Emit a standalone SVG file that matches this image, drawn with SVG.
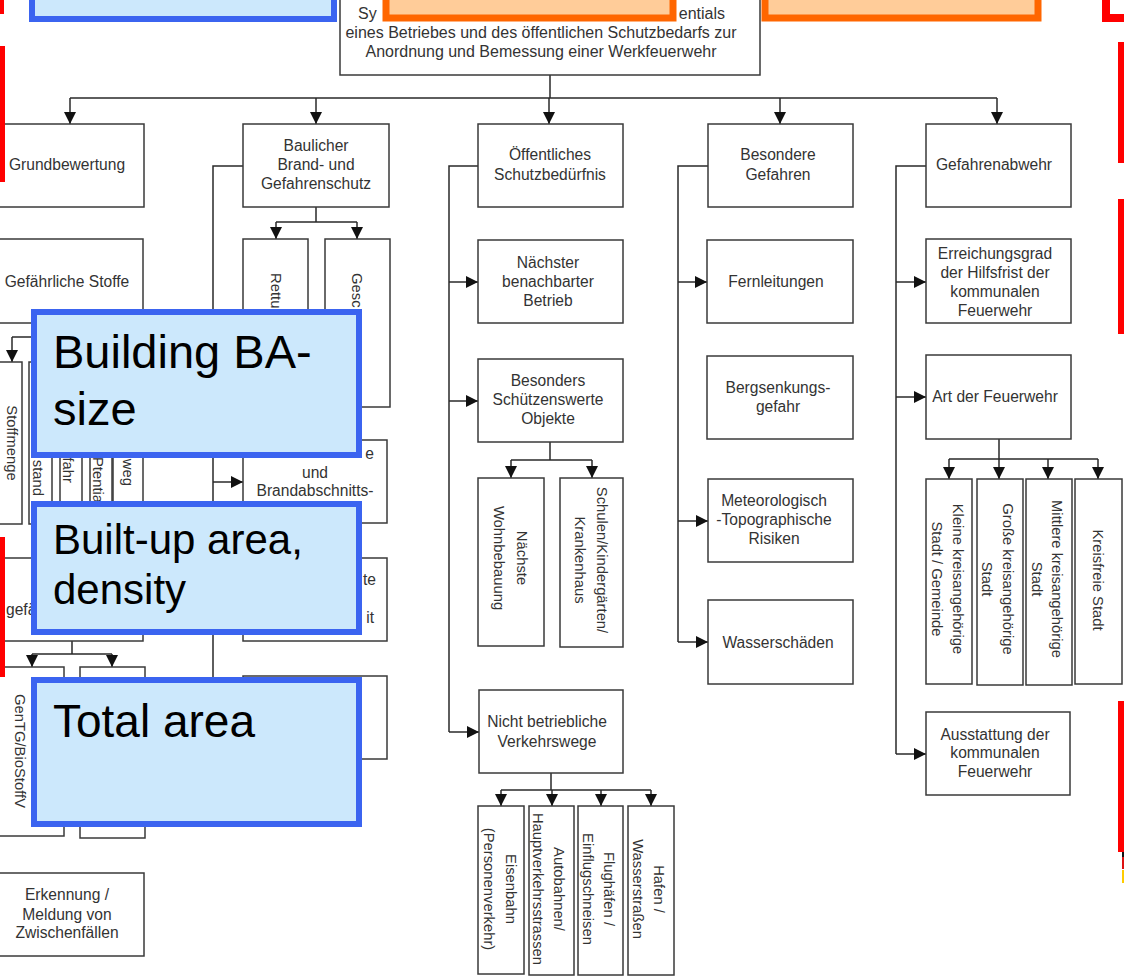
<svg xmlns="http://www.w3.org/2000/svg" width="1124" height="978" viewBox="0 0 1124 978">
<style>
.b{fill:#fff;stroke:#3a3a3a;stroke-width:1.5}
.c{fill:none;stroke:#2a2a2a;stroke-width:1.5}
.t{font-family:"Liberation Sans",Arial,sans-serif;font-size:15.6px;fill:#333;text-anchor:middle}
.r{font-size:14.8px}
.s{text-anchor:start}
.e{text-anchor:end}
.root{font-size:16px}
.ob{fill:#cce8fc;stroke:#3b64f0;stroke-width:6}
.oo{fill:#ffcc99;stroke:#ff6600;stroke-width:7}
.ot{font-family:"Liberation Sans",Arial,sans-serif;fill:#000}
.red{fill:#ff0000}
</style>
<defs>
<marker id="ah" markerUnits="userSpaceOnUse" markerWidth="13" markerHeight="13" refX="12" refY="6.5" orient="auto" viewBox="0 0 13 13">
<path d="M0,0.5 L12,6.5 L0,12.5 z" fill="#111"/>
</marker>
</defs>
<rect width="1124" height="978" fill="#fff"/>

<g id="connectors" class="c">
<path d="M550,75 V98 M70,98 H997"/>
<path d="M70,98 V124" marker-end="url(#ah)"/>
<path d="M316,98 V124" marker-end="url(#ah)"/>
<path d="M549,98 V124" marker-end="url(#ah)"/>
<path d="M780,98 V124" marker-end="url(#ah)"/>
<path d="M997,98 V124" marker-end="url(#ah)"/>
<path d="M70,323 V337 M12,337 H127"/>
<path d="M12,337 V362" marker-end="url(#ah)"/>
<path d="M72,641 V654 M32,654 H112"/>
<path d="M32,654 V667" marker-end="url(#ah)"/>
<path d="M112,654 V667" marker-end="url(#ah)"/>
<path d="M316,207 V222 M276,222 H357"/>
<path d="M276,222 V239" marker-end="url(#ah)"/>
<path d="M357,222 V239" marker-end="url(#ah)"/>
<path d="M243,166 H213 V717"/>
<path d="M213,482 H243" marker-end="url(#ah)"/>
<path d="M478,166 H449 V732"/>
<path d="M449,282 H478" marker-end="url(#ah)"/>
<path d="M449,401 H478" marker-end="url(#ah)"/>
<path d="M449,732 H479" marker-end="url(#ah)"/>
<path d="M550,442 V460 M511,460 H592"/>
<path d="M511,460 V478" marker-end="url(#ah)"/>
<path d="M592,460 V478" marker-end="url(#ah)"/>
<path d="M551,773 V790 M501,790 H651"/>
<path d="M501,790 V806" marker-end="url(#ah)"/>
<path d="M552,790 V806" marker-end="url(#ah)"/>
<path d="M601,790 V806" marker-end="url(#ah)"/>
<path d="M651,790 V806" marker-end="url(#ah)"/>
<path d="M708,166 H678 V642"/>
<path d="M678,282 H707" marker-end="url(#ah)"/>
<path d="M678,521 H708" marker-end="url(#ah)"/>
<path d="M678,642 H708" marker-end="url(#ah)"/>
<path d="M926,166 H896 V754"/>
<path d="M896,282 H926" marker-end="url(#ah)"/>
<path d="M896,397 H926" marker-end="url(#ah)"/>
<path d="M896,754 H926" marker-end="url(#ah)"/>
<path d="M999,439 V459 M949,459 H1098"/>
<path d="M949,459 V479" marker-end="url(#ah)"/>
<path d="M999,459 V479" marker-end="url(#ah)"/>
<path d="M1048,459 V479" marker-end="url(#ah)"/>
<path d="M1098,459 V479" marker-end="url(#ah)"/>
</g>

<g id="root"><rect class="b" x="340" y="-10" width="420" height="85"/>
<text class="t root s" x="358" y="19">Sy</text>
<text class="t root e" x="725" y="19">entials</text>
<text class="t root" x="541" y="38">eines Betriebes und des öffentlichen Schutzbedarfs zur</text>
<text class="t root" x="541" y="57">Anordnung und Bemessung einer Werkfeuerwehr</text></g>

<g id="grundbewertung"><rect class="b" x="-2" y="124" width="146" height="83"/><text class="t" x="67" y="170">Grundbewertung</text></g>
<g id="gefaehrliche-stoffe"><rect class="b" x="-2" y="239" width="145" height="84"/><text class="t" x="67" y="287">Gefährliche Stoffe</text></g>
<g id="stoffmenge"><rect class="b" x="-1" y="362" width="23" height="162"/><text class="t r" transform="translate(12,443) rotate(90)" dy="0.35em">Stoffmenge</text></g>
<g id="abstand"><rect class="b" x="29" y="362" width="23" height="162"/><text class="t r e" transform="translate(38,496) rotate(90)" dy="0.35em">stand</text></g>
<g id="gefahr"><rect class="b" x="60" y="362" width="22" height="162"/><text class="t r e" transform="translate(68,483) rotate(90)" dy="0.35em">fahr</text></g>
<g id="potential"><rect class="b" x="90" y="362" width="22" height="162"/><text class="t r s" transform="translate(98,457) rotate(90)" dy="0.35em">Ptentia</text></g>
<g id="weg"><rect class="b" x="113" y="362" width="30" height="162"/><text class="t r e" transform="translate(128,486) rotate(90)" dy="0.35em">weg</text></g>
<g id="gefae"><rect class="b" x="-2" y="558" width="145" height="83"/><text class="t s" x="6" y="615">gefä</text></g>
<g id="gentg"><rect class="b" x="-1" y="667" width="65" height="169"/><text class="t r" transform="translate(20,751) rotate(90)" dy="0.35em">GenTG/BioStoffV</text></g>
<g id="gentg2"><rect class="b" x="80" y="667" width="65" height="171"/></g>
<g id="erkennung"><rect class="b" x="-2" y="873" width="146" height="83"/>
<text class="t" x="67" y="900">Erkennung /</text><text class="t" x="67" y="920">Meldung von</text><text class="t" x="67" y="938">Zwischenfällen</text></g>

<g id="baulicher"><rect class="b" x="243" y="124" width="146" height="83"/>
<text class="t" x="316" y="151">Baulicher</text><text class="t" x="316" y="170">Brand- und</text><text class="t" x="316" y="189">Gefahrenschutz</text></g>
<g id="rettu"><rect class="b" x="243" y="239" width="65" height="168"/><text class="t r s" transform="translate(276,273) rotate(90)" dy="0.35em">Rettu</text></g>
<g id="gesc"><rect class="b" x="325" y="239" width="65" height="168"/><text class="t r s" transform="translate(357,273) rotate(90)" dy="0.35em">Gesc</text></g>
<g id="brandabschnitt"><rect class="b" x="243" y="440" width="144" height="83"/>
<text class="t e" x="374" y="459">e</text><text class="t" x="315" y="478">und</text><text class="t" x="315" y="496">Brandabschnitts-</text></g>
<g id="bebauung"><rect class="b" x="243" y="558" width="144" height="83"/>
<text class="t e" x="376" y="585">te</text><text class="t e" x="374" y="623">it</text></g>
<g id="gesamtflaeche"><rect class="b" x="243" y="676" width="144" height="83"/></g>

<g id="oeffentliches"><rect class="b" x="478" y="124" width="145" height="83"/>
<text class="t" x="550" y="160">Öffentliches</text><text class="t" x="550" y="180">Schutzbedürfnis</text></g>
<g id="naechster"><rect class="b" x="478" y="240" width="145" height="83"/>
<text class="t" x="548" y="268">Nächster</text><text class="t" x="548" y="287">benachbarter</text><text class="t" x="548" y="306">Betrieb</text></g>
<g id="besonders"><rect class="b" x="478" y="359" width="145" height="83"/>
<text class="t" x="548" y="386">Besonders</text><text class="t" x="548" y="405">Schützenswerte</text><text class="t" x="548" y="424">Objekte</text></g>
<g id="wohnbebauung"><rect class="b" x="478" y="478" width="66" height="168"/>
<text class="t r" transform="translate(522,558) rotate(90)" dy="0.35em">Nächste</text>
<text class="t r" transform="translate(499,558) rotate(90)" dy="0.35em">Wohnbebauung</text></g>
<g id="schulen"><rect class="b" x="560" y="478" width="63" height="169"/>
<text class="t r" transform="translate(602,560) rotate(90)" dy="0.35em">Schulen/Kindergärten/</text>
<text class="t r" transform="translate(580,560) rotate(90)" dy="0.35em">Krankenhaus</text></g>
<g id="verkehrswege"><rect class="b" x="479" y="690" width="144" height="83"/>
<text class="t" x="547" y="727">Nicht betriebliche</text><text class="t" x="547" y="747">Verkehrswege</text></g>
<g id="eisenbahn"><rect class="b" x="478" y="806" width="46" height="168"/>
<text class="t r" transform="translate(511,889) rotate(90)" dy="0.35em">Eisenbahn</text>
<text class="t r" transform="translate(489,889) rotate(90)" dy="0.35em">(Personenverkehr)</text></g>
<g id="autobahnen"><rect class="b" x="529" y="806" width="45" height="169"/>
<text class="t r" transform="translate(559,889) rotate(90)" dy="0.35em">Autobahnen/</text>
<text class="t r" transform="translate(538,889) rotate(90)" dy="0.35em">Hauptverkehrsstrassen</text></g>
<g id="flughaefen"><rect class="b" x="578" y="806" width="45" height="169"/>
<text class="t r" transform="translate(609,889) rotate(90)" dy="0.35em">Flughäfen /</text>
<text class="t r" transform="translate(588,889) rotate(90)" dy="0.35em">Einflugschneisen</text></g>
<g id="hafen"><rect class="b" x="628" y="806" width="46" height="169"/>
<text class="t r" transform="translate(659,889) rotate(90)" dy="0.35em">Hafen /</text>
<text class="t r" transform="translate(638,889) rotate(90)" dy="0.35em">Wasserstraßen</text></g>

<g id="besondere"><rect class="b" x="708" y="124" width="145" height="83"/>
<text class="t" x="778" y="160">Besondere</text><text class="t" x="778" y="180">Gefahren</text></g>
<g id="fernleitungen"><rect class="b" x="707" y="240" width="146" height="83"/><text class="t" x="776" y="287">Fernleitungen</text></g>
<g id="bergsenkung"><rect class="b" x="707" y="356" width="146" height="83"/>
<text class="t" x="778" y="393">Bergsenkungs-</text><text class="t" x="778" y="412">gefahr</text></g>
<g id="meteorologisch"><rect class="b" x="708" y="479" width="145" height="83"/>
<text class="t" x="774" y="506">Meteorologisch</text><text class="t" x="774" y="525">-Topographische</text><text class="t" x="774" y="544">Risiken</text></g>
<g id="wasserschaeden"><rect class="b" x="708" y="600" width="145" height="84"/><text class="t" x="778" y="648">Wasserschäden</text></g>

<g id="gefahrenabwehr"><rect class="b" x="926" y="124" width="145" height="83"/><text class="t" x="994" y="170">Gefahrenabwehr</text></g>
<g id="erreichungsgrad"><rect class="b" x="926" y="239" width="145" height="84"/>
<text class="t" x="995" y="259">Erreichungsgrad</text><text class="t" x="995" y="278">der Hilfsfrist der</text><text class="t" x="995" y="297">kommunalen</text><text class="t" x="995" y="316">Feuerwehr</text></g>
<g id="art"><rect class="b" x="926" y="355" width="145" height="84"/><text class="t" x="995" y="402">Art der Feuerwehr</text></g>
<g id="kleine"><rect class="b" x="926" y="479" width="46" height="205"/>
<text class="t r" transform="translate(958,579) rotate(90)" dy="0.35em">Kleine kreisangehörige</text>
<text class="t r" transform="translate(937,579) rotate(90)" dy="0.35em">Stadt / Gemeinde</text></g>
<g id="grosse"><rect class="b" x="977" y="479" width="46" height="206"/>
<text class="t r" transform="translate(1008,579) rotate(90)" dy="0.35em">Große kreisangehörige</text>
<text class="t r" transform="translate(987,579) rotate(90)" dy="0.35em">Stadt</text></g>
<g id="mittlere"><rect class="b" x="1026" y="479" width="46" height="206"/>
<text class="t r" transform="translate(1057,579) rotate(90)" dy="0.35em">Mittlere kreisangehörige</text>
<text class="t r" transform="translate(1037,579) rotate(90)" dy="0.35em">Stadt</text></g>
<g id="kreisfreie"><rect class="b" x="1075" y="479" width="47" height="205"/>
<text class="t r" transform="translate(1098,580) rotate(90)" dy="0.35em">Kreisfreie Stadt</text></g>
<g id="ausstattung"><rect class="b" x="926" y="712" width="144" height="83"/>
<text class="t" x="995" y="740">Ausstattung der</text><text class="t" x="995" y="758">kommunalen</text><text class="t" x="995" y="777">Feuerwehr</text></g>

<g id="overlays">
<rect class="ob" x="32" y="-10" width="302" height="29"/>
<rect class="oo" x="386" y="-10" width="287" height="28"/>
<rect class="oo" x="765" y="-10" width="273" height="28"/>
<rect x="1106" y="-10" width="30" height="28" fill="none" stroke="#ff0000" stroke-width="8"/>
<rect class="red" x="0" y="0" width="4" height="14"/>
<rect class="red" x="0" y="46" width="5" height="136"/>
<rect class="red" x="0" y="537" width="5" height="140"/>
<rect class="red" x="1118" y="42" width="6" height="121"/>
<rect class="red" x="1118" y="199" width="6" height="135"/>
<rect class="red" x="1118" y="701" width="6" height="151"/>
<rect x="1122" y="852" width="2" height="5" fill="#111"/>
<rect x="1122" y="857" width="2" height="12" fill="#dd1111"/>
<rect x="1122" y="870" width="2" height="13" fill="#ffcc00"/>
<g id="building-ba-size"><rect class="ob" x="34" y="312" width="325" height="143"/>
<text class="ot" x="53" y="368" font-size="47">Building BA-</text><text class="ot" x="53" y="425" font-size="47">size</text></g>
<g id="built-up-area"><rect class="ob" x="34" y="504" width="325" height="128"/>
<text class="ot" x="53" y="554" font-size="42">Built-up area,</text><text class="ot" x="53" y="604" font-size="42">density</text></g>
<g id="total-area"><rect class="ob" x="34" y="680" width="325" height="144"/>
<text class="ot" x="53" y="737" font-size="46">Total area</text></g>
</g>
</svg>
